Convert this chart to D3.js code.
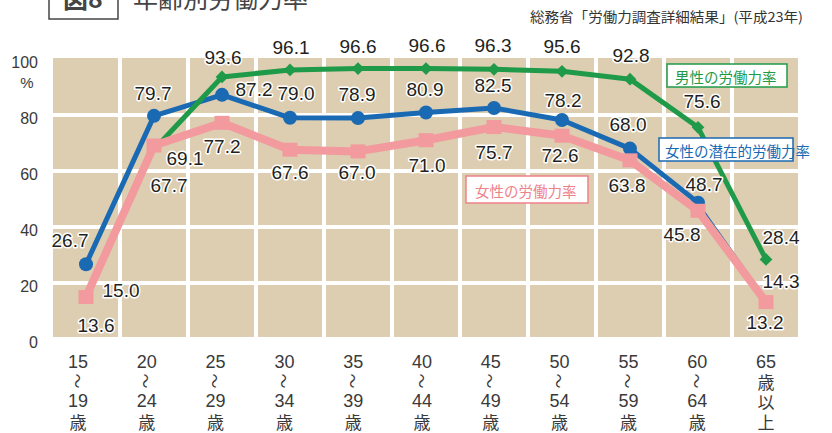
<!DOCTYPE html>
<html>
<head>
<meta charset="utf-8">
<script src="https://cdn.jsdelivr.net/npm/d3@7"></script>
<style>
  body { margin: 0; background: #fff; }
  svg { display: block; }
</style>
</head>
<body>
<div id="chart"></div>
<script>
// 年齢別労働力率 (平成23年)
const categories = ['15〜19歳', '20〜24歳', '25〜29歳', '30〜34歳', '35〜39歳', '40〜44歳',
  '45〜49歳', '50〜54歳', '55〜59歳', '60〜64歳', '65歳以上'];
const categoryLines = [
  ['15', '〜', '19', '歳'], ['20', '〜', '24', '歳'], ['25', '〜', '29', '歳'],
  ['30', '〜', '34', '歳'], ['35', '〜', '39', '歳'], ['40', '〜', '44', '歳'],
  ['45', '〜', '49', '歳'], ['50', '〜', '54', '歳'], ['55', '〜', '59', '歳'],
  ['60', '〜', '64', '歳'], ['65', '歳', '以', '上']
];
const maleRate = [13.6, 67.7, 93.6, 96.1, 96.6, 96.6, 96.3, 95.6, 92.8, 75.6, 28.4];
const femaleRate = [15.0, 69.1, 77.2, 67.6, 67.0, 71.0, 75.7, 72.6, 63.8, 45.8, 13.2];
const potentialRate = [26.7, 79.7, 87.2, 79.0, 78.9, 80.9, 82.5, 78.2, 68.0, 48.7, 14.3];
const yTicks = [0, 20, 40, 60, 80, 100];

// label offsets from the point (layout only)
const maleLabelOff = [[10, 24], [15, 36], [1, -20], [1, -23], [0, -22], [1, -23], [-1, -24], [0, -25], [1, -24], [4, -26], [15, -22]];
const potLabelOff = [[-16, -24], [-1, -22], [32, -5], [6, -24], [-1, -24], [-1, -23], [-1, -23], [1, -20], [-2, -24], [6, -18], [15, -18]];
const femLabelOff = [[35, -7], [31, 13], [0, 24], [0, 23], [-1, 21], [1, 25], [0, 25], [-2, 20], [-3, 25], [-16, 24], [-1, 20]];

const W = 832, H = 433;
const palette = {
  tan: '#ddcdb1',
  grid: '#ffffff',
  green: '#1f9a48',
  blue: '#1a69b3',
  pink: '#f29a9e',
  pinkText: '#ee8289',
  text: '#231f20',
  tick: '#3a3a3a'
};
const numFont = '"Liberation Sans", Arial, sans-serif';
const jpFont = '"Noto Sans CJK JP", "Noto Sans", sans-serif';

const svg = d3.select('#chart').append('svg')
  .attr('width', W).attr('height', H);

const x = d3.scaleBand().domain(categories).range([52, 800]).padding(0);
const cx = (i) => x(categories[i]) + x.bandwidth() / 2;
const xLab = d3.scalePoint().domain(categories).range([78, 766]);
const y = d3.scaleLinear().domain([0, 100]).range([339, 59]);

// title (cut at the top edge)
svg.append('rect')
  .attr('x', 49).attr('y', -10).attr('width', 69).attr('height', 29)
  .attr('fill', 'none').attr('stroke', '#444').attr('stroke-width', 1.5);
svg.append('text')
  .attr('x', 83).attr('y', 8).attr('text-anchor', 'middle')
  .attr('font-family', jpFont).attr('font-size', 25).attr('font-weight', 700)
  .attr('fill', '#444').text('図8');
svg.append('text')
  .attr('x', 133).attr('y', 8)
  .attr('font-family', jpFont).attr('font-size', 25)
  .attr('fill', '#444').text('年齢別労働力率');

svg.append('text')
  .attr('x', 530).attr('y', 16).attr('dominant-baseline', 'central')
  .attr('font-family', jpFont).attr('font-size', 13.5)
  .attr('textLength', 273).attr('lengthAdjust', 'spacingAndGlyphs')
  .attr('fill', '#333').text('総務省「労働力調査詳細結果」(平成23年)');

// plot background + white grid
svg.append('rect')
  .attr('x', 53).attr('y', y(100) - 1)
  .attr('width', 745).attr('height', y(0) - 2 - (y(100) - 1))
  .attr('fill', palette.tan);

svg.append('g').selectAll('line')
  .data([20, 40, 60, 80])
  .enter().append('line')
  .attr('x1', 52).attr('x2', 800)
  .attr('y1', (d) => y(d)).attr('y2', (d) => y(d))
  .attr('stroke', palette.grid).attr('stroke-width', 4);

svg.append('g').selectAll('line')
  .data(categories.slice(1))
  .enter().append('line')
  .attr('x1', (d) => x(d)).attr('x2', (d) => x(d))
  .attr('y1', y(100) - 2).attr('y2', y(0))
  .attr('stroke', palette.grid).attr('stroke-width', 4);

// y axis labels
svg.append('g')
  .attr('transform', 'translate(42,3)')
  .call(d3.axisLeft(y).tickValues(yTicks).tickSize(0).tickPadding(4))
  .call((g) => g.select('.domain').remove())
  .call((g) => g.selectAll('text')
    .attr('font-family', numFont).attr('font-size', 16).attr('fill', palette.tick));

svg.append('text')
  .attr('x', 27).attr('y', 82).attr('text-anchor', 'middle').attr('dominant-baseline', 'central')
  .attr('font-family', numFont).attr('font-size', 15).attr('fill', palette.tick).text('%');

// x labels (vertical stacks)
const lineY = [362, 381, 401, 421];
const xg = svg.append('g');
categoryLines.forEach((lines, i) => {
  const lx = xLab(categories[i]);
  lines.forEach((t, k) => {
    const isNum = /\d/.test(t);
    const el = xg.append('text')
      .attr('text-anchor', 'middle').attr('dominant-baseline', 'central')
      .attr('fill', palette.tick)
      .attr('font-family', isNum ? numFont : jpFont)
      .attr('font-size', isNum ? 18 : 17)
      .text(t);
    if (t === '〜') {
      el.attr('font-size', 15).attr('transform', `translate(${lx},${lineY[k]}) rotate(90)`);
    } else {
      el.attr('x', lx).attr('y', lineY[k]);
    }
  });
});

// potential (blue): thick up to 60-64, thin to 65+
svg.append('path')
  .attr('d', d3.line().defined((d, i) => i <= 9).x((d, i) => cx(i)).y((d) => y(d))(potentialRate))
  .attr('fill', 'none').attr('stroke', palette.blue).attr('stroke-width', 5)
  .attr('stroke-linejoin', 'round');
svg.append('path')
  .attr('d', d3.line().x((d, i) => cx(i + 9)).y((d) => y(d))(potentialRate.slice(9)))
  .attr('fill', 'none').attr('stroke', palette.blue).attr('stroke-width', 1.5);
svg.append('g').selectAll('circle')
  .data(potentialRate.slice(0, 10))
  .enter().append('circle')
  .attr('cx', (d, i) => cx(i)).attr('cy', (d) => y(d)).attr('r', 7)
  .attr('fill', palette.blue);
svg.append('rect')
  .attr('x', cx(10) - 4).attr('y', y(potentialRate[10]) - 1)
  .attr('width', 8).attr('height', 3).attr('fill', palette.blue);

// male (green)
svg.append('path')
  .attr('d', d3.line().defined((d, i) => i >= 1).x((d, i) => cx(i)).y((d) => y(d))(maleRate))
  .attr('fill', 'none').attr('stroke', palette.green).attr('stroke-width', 5)
  .attr('stroke-linejoin', 'round');
svg.append('g').selectAll('rect')
  .data(maleRate)
  .enter().append('rect')
  .each(function (d, i) {
    const s = i <= 1 ? 4 : 9;
    d3.select(this)
      .attr('x', -s / 2).attr('y', -s / 2).attr('width', s).attr('height', s)
      .attr('transform', `translate(${cx(i)},${y(d)}) rotate(45)`);
  })
  .attr('fill', palette.green);

// female (pink)
svg.append('path')
  .attr('d', d3.line().x((d, i) => cx(i)).y((d) => y(d))(femaleRate))
  .attr('fill', 'none').attr('stroke', palette.pink).attr('stroke-width', 8)
  .attr('stroke-linejoin', 'round');
svg.append('g').selectAll('rect')
  .data(femaleRate)
  .enter().append('rect')
  .attr('x', (d, i) => cx(i) - 7.5).attr('y', (d) => y(d) - 7)
  .attr('width', 15).attr('height', 14)
  .attr('fill', palette.pink);

// value labels
function labels(values, offs) {
  svg.append('g').selectAll('text')
    .data(values)
    .enter().append('text')
    .attr('x', (d, i) => cx(i) + offs[i][0])
    .attr('y', (d, i) => y(d) + offs[i][1])
    .attr('dy', '0.35em')
    .attr('text-anchor', 'middle')
    .attr('font-family', numFont).attr('font-size', 19)
    .attr('fill', palette.text)
    .attr('stroke', '#fff').attr('stroke-width', 3).attr('paint-order', 'stroke')
    .attr('stroke-linejoin', 'round')
    .text((d) => d.toFixed(1));
}
labels(maleRate, maleLabelOff);
labels(potentialRate, potLabelOff);
labels(femaleRate, femLabelOff);

// legend boxes
function legendBox(bx, by, bw, bh, color, label, tx) {
  svg.append('rect')
    .attr('x', bx).attr('y', by).attr('width', bw).attr('height', bh)
    .attr('fill', '#fff').attr('stroke', color).attr('stroke-width', 1.5);
  svg.append('text')
    .attr('x', tx).attr('y', by + bh / 2 + 1)
    .attr('dominant-baseline', 'central')
    .attr('font-family', jpFont).attr('font-size', 14.5)
    .attr('fill', color).text(label);
}
legendBox(667, 64, 120, 23, palette.green, '男性の労働力率', 675);
legendBox(659, 138, 134, 23, palette.blue, '女性の潜在的労働力率', 665);
legendBox(466, 176, 122, 27, palette.pinkText, '女性の労働力率', 475);
</script>
</body>
</html>
